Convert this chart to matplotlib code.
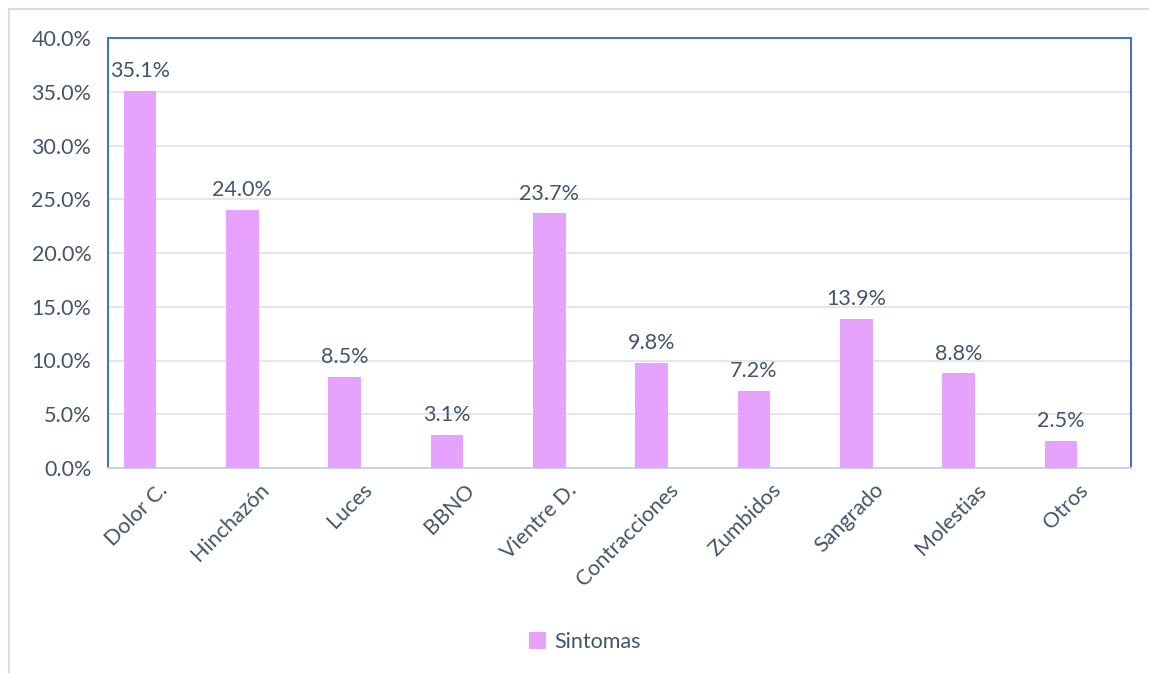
import matplotlib
matplotlib.use("Agg")
import matplotlib.pyplot as plt
from matplotlib.patches import Rectangle
from matplotlib.ticker import FuncFormatter, MultipleLocator
from matplotlib.transforms import ScaledTranslation

categories = ["Dolor C.", "Hinchazón", "Luces", "BBNO", "Vientre D.",
              "Contracciones", "Zumbidos", "Sangrado", "Molestias", "Otros"]
values = [35.1, 24.0, 8.5, 3.1, 23.7, 9.8, 7.2, 13.9, 8.8, 2.5]
series_name = "Sintomas"

plt.rcParams['font.family'] = ['Lato', 'DejaVu Sans']
text_color = "#44546A"
bar_color = "#E6A2FC"
fs = 15.5

fig = plt.figure(figsize=(11.49, 6.73), dpi=100)
ax = fig.add_axes([108/1149, 1-468/673, (1131-108)/1149, (468-38)/673])

x = range(len(categories))
ax.bar(x, values, width=0.32, color=bar_color, label=series_name, zorder=3)
for xi, v in zip(x, values):
    ax.text(xi, v + 0.9, f"{v:.1f}%", ha="center", va="bottom",
            fontsize=fs, color=text_color, zorder=4)

ax.set_xlim(-0.313, 9.684)
ax.set_ylim(0, 40)
ax.yaxis.set_major_locator(MultipleLocator(5))
ax.yaxis.set_major_formatter(FuncFormatter(lambda v, p: f"{v:.1f}%"))
ax.grid(axis="y", color="#DEE1E6", linewidth=1.2, zorder=0)
ax.set_xticks(list(x))
ax.set_xticklabels(categories, rotation=45, ha="right", rotation_mode="anchor")
ax.tick_params(axis="both", length=0, labelsize=fs, labelcolor=text_color)
ax.tick_params(axis="x", pad=10)
ax.tick_params(axis="y", pad=12)
offset = ScaledTranslation(17/100, 2/100, fig.dpi_scale_trans)
for lbl in ax.get_xticklabels():
    lbl.set_transform(lbl.get_transform() + offset)

for side in ["left", "top", "right"]:
    ax.spines[side].set_color("#4472C4")
    ax.spines[side].set_linewidth(1.5)
ax.spines["bottom"].set_color("#C9D3E3")
ax.spines["bottom"].set_linewidth(1.5)

leg = fig.legend(loc="center", bbox_to_anchor=(585/1149, 1-642/673), frameon=False,
                 fontsize=fs, handlelength=0.8, handleheight=0.8, handletextpad=0.4)
for t in leg.get_texts():
    t.set_color(text_color)

fig.patches.append(Rectangle((9/1149, -0.1), 1.2, 1 - 9/673 + 0.1,
                             transform=fig.transFigure, fill=False,
                             edgecolor="#D9DDE3", linewidth=1.5, zorder=0))

fig.savefig("out.png", dpi=100, facecolor="white")
